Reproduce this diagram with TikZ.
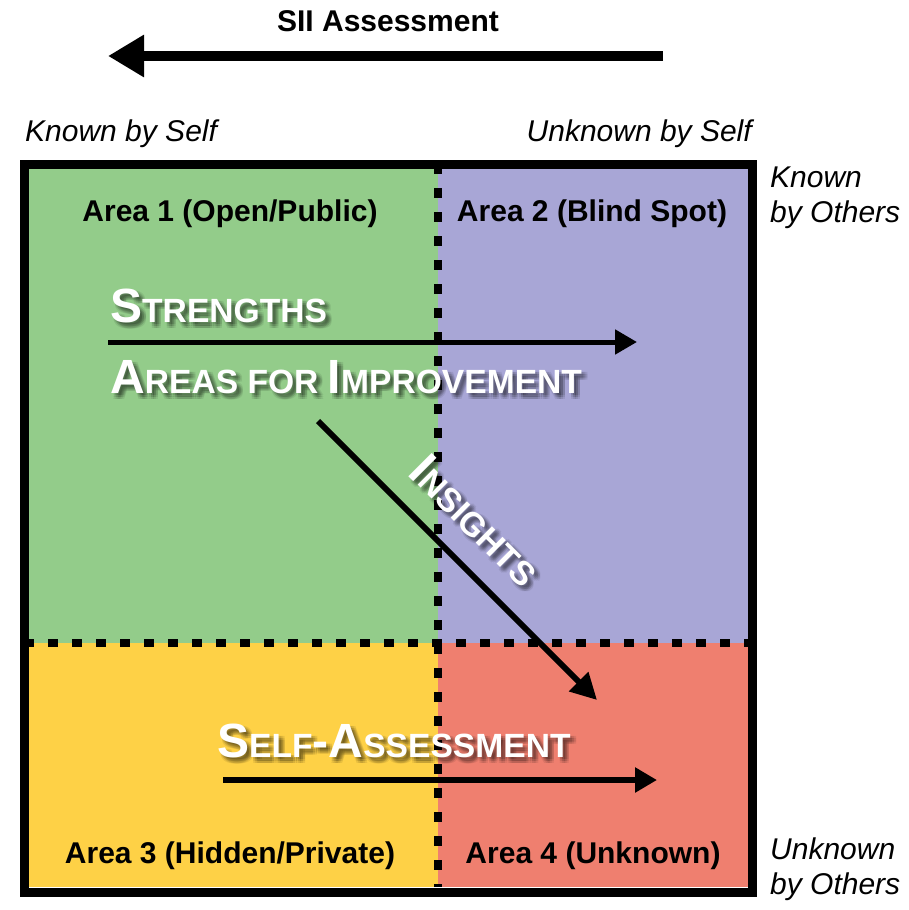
\documentclass[tikz,border=0pt]{standalone}
\usepackage{fontspec}
\setmainfont{Liberation Sans}
\usetikzlibrary{arrows.meta,calc}
\definecolor{qgreen}{RGB}{147,204,138}
\definecolor{qpurple}{RGB}{168,166,214}
\definecolor{qyellow}{RGB}{254,209,70}
\definecolor{qred}{RGB}{239,127,111}
\newcommand\BigSC[2]{{\fontsize{48}{48}\selectfont #1}{\fontsize{33.6}{40}\selectfont #2}}
\newcommand\glowtext[4]{%
  \foreach \dx in {2,4,6}{\foreach \dy in {2,4,6}{
    \node[bigtext,#3,text=black,text opacity=0.08] at ($(#2)+(\dx,-\dy)$) {#4};}}
  \node[bigtext,#3,text=white] (#1) at (#2) {#4};}
\tikzset{
  lbl/.style={inner sep=0pt,font=\fontsize{30}{36}\selectfont\bfseries},
  side/.style={inner sep=0pt,font=\fontsize{30}{36}\selectfont\itshape},
  bigtext/.style={inner sep=0pt,font=\bfseries},
  divider/.style={line width=8pt,dash pattern=on 10pt off 14pt,dash phase=5pt},
  frame/.style={line width=9pt},
}
\begin{document}
\begin{tikzpicture}[x=1pt,y=1pt]
\useasboundingbox (0,0) rectangle (909,-910);
% quadrants
\fill[qgreen] (29,-169) rectangle (438,-643);
\fill[qpurple] (438,-169) rectangle (748,-643);
\fill[qyellow] (29,-643) rectangle (438,-887);
\fill[qred] (438,-643) rectangle (748,-887);
% dividers
\coordinate (vt) at (438,-169); \coordinate (vb) at (438,-887);
\coordinate (hl) at (29,-643); \coordinate (hr) at (748,-643);
\draw[divider] (vt) -- (vb);
\draw[divider] (hl) -- (hr);
% frame
\draw[frame] (24.5,-164.5) rectangle (752.5,-892);
% top labels
\node[lbl,anchor=base] (sii) at (388,-31) {SII Assessment};
\coordinate (tas) at (663,-56); \coordinate (tae) at (108,-56);
\draw[line width=10pt,-{Triangle[length=36pt,width=40pt]}] (tas) -- (tae);
\node[side,anchor=base west] (kbs) at (25,-141) {Known by Self};
\node[side,anchor=base east] (ubs) at (752,-141) {Unknown by Self};
\node[side,anchor=base west] (ko1) at (770,-187) {Known};
\node[side,anchor=base west] (ko2) at (770,-222) {by Others};
\node[side,anchor=base west] (uo1) at (770,-859) {Unknown};
\node[side,anchor=base west] (uo2) at (770,-894) {by Others};
% area labels
\node[lbl,anchor=base] (a1) at (230,-221) {Area 1 (Open/Public)};
\node[lbl,anchor=base] (a2) at (592,-221) {Area 2 (Blind Spot)};
\node[lbl,anchor=base] (a3) at (230,-863) {Area 3 (Hidden/Private)};
\node[lbl,anchor=base] (a4) at (593,-863) {Area 4 (Unknown)};
% big texts
\glowtext{str}{110,-322}{anchor=base west}{\BigSC{S}{TRENGTHS}}
\glowtext{afi}{110,-393}{anchor=base west}{\BigSC{A}{REAS FOR }\BigSC{I}{MPROVEMENT}}
\glowtext{slf}{217,-757}{anchor=base west}{\BigSC{S}{ELF}\BigSC{-A}{SSESSMENT}}
\glowtext{ins}{476,-520}{anchor=center,rotate=-45}{\BigSC{I}{NSIGHTS}}
% arrows
\coordinate (ms) at (108,-342); \coordinate (me) at (637,-342);
\draw[line width=5pt,-{Triangle[length=22pt,width=24pt]}] (ms) -- (me);
\coordinate (ds) at (318,-421); \coordinate (de) at (597,-700);
\draw[line width=6pt,-{Triangle[length=26pt,width=26pt]}] (ds) -- (de);
\coordinate (bs) at (223,-780); \coordinate (be) at (657,-780);
\draw[line width=5.5pt,-{Triangle[length=22pt,width=24pt]}] (bs) -- (be);
\end{tikzpicture}
\end{document}
